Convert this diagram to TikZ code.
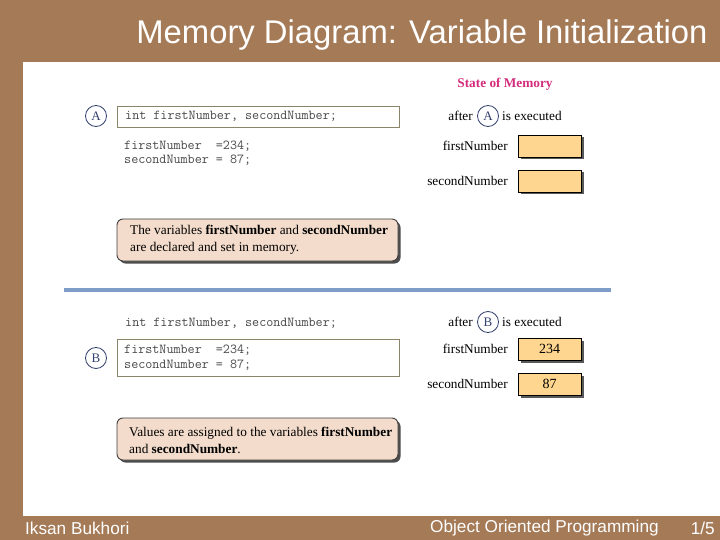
\documentclass[tikz,border=0pt]{standalone}
\usepackage{fontspec}
\setmainfont{Liberation Serif}
\newfontfamily\arialfont{Liberation Sans}
\definecolor{slidebrown}{HTML}{A57A57}
\definecolor{circblue}{HTML}{34406E}
\definecolor{codeboxline}{HTML}{8C8468}
\definecolor{calloutfill}{HTML}{F3DCCB}
\definecolor{memfill}{HTML}{FFD68F}
\definecolor{sepblue}{HTML}{7F9DC9}
\definecolor{magentatitle}{HTML}{D42C7C}
\definecolor{codegray}{HTML}{4A4A4A}
\tikzset{
  stepcircle/.style={circle, draw=circblue, line width=0.8pt, minimum size=21pt, inner sep=0pt, text=circblue, font=\fontsize{13}{13}\selectfont},
  codetext/.style={anchor=west, inner sep=0pt, align=left, text=codegray, font=\ttfamily\fontsize{13.7}{14.5}\selectfont},
  codebox/.style={draw=codeboxline, line width=0.8pt, fill=white},
  callout/.style={draw=black!75, line width=0.9pt, fill=calloutfill, rounded corners=6pt},
  shadowbox/.style={fill=black!70, rounded corners=6pt},
  calltext/.style={anchor=west, inner sep=0pt, align=left, font=\fontsize{13.3}{17}\selectfont},
  memlabel/.style={anchor=east, inner sep=0pt, font=\fontsize{13.3}{14}\selectfont},
  membox/.style={draw=black, line width=0.9pt, fill=memfill, minimum width=63pt, minimum height=22pt, inner sep=0pt, font=\fontsize{14}{14}\selectfont},
  memshadow/.style={fill=black!65},
  plaintext/.style={inner sep=0pt, font=\fontsize{13.3}{14}\selectfont},
  foottext/.style={text=white, inner sep=0pt, font=\arialfont\fontsize{17.2}{19}\selectfont}
}
\begin{document}
\begin{tikzpicture}[x=1pt,y=-1pt]
% background
\fill[slidebrown] (0,0) rectangle (720,540);
\useasboundingbox (0,0) rectangle (720,540);
\fill[white] (23,62) rectangle (720,516);
% title and footer
\node[text=white, inner sep=0pt, font=\arialfont\fontsize{32.8}{34}\selectfont] (title) at (422,35) {Memory Diagram: Variable Initialization};
\node[foottext, anchor=west] (author) at (25,528) {Iksan Bukhori};
\node[foottext, anchor=west] (course) at (430,528) {Object Oriented Programming};
\node[foottext, anchor=east] (page) at (715,528) {1/5};

% ---------- Part A ----------
\node[stepcircle] (cA) at (96,116) {A};
\draw[codebox] (117,106) rectangle (399,127);
\node[codetext] (declA) at (125,116) {int firstNumber, secondNumber;};
\node[codetext] (assignA) at (124,153) {firstNumber\ \ =234;\\secondNumber = 87;};
\fill[shadowbox] (119.5,221.5) rectangle (400.5,263.5);
\draw[callout] (117,219) rectangle (398,261);
\node[calltext] (noteA) at (130,240) {The variables \textbf{firstNumber} and \textbf{secondNumber}\\are declared and set in memory.};

\node[inner sep=0pt, text=magentatitle, font=\bfseries\fontsize{13.3}{14}\selectfont] (state) at (505,84) {State of Memory};
\node[plaintext, anchor=east] (afterA) at (473,116) {after};
\node[stepcircle] (cA2) at (488,116) {A};
\node[plaintext, anchor=west] (execA) at (502,116) {is executed};
\node[memlabel] (fnA) at (508,146) {firstNumber};
\node[memlabel] (snA) at (508,181) {secondNumber};
\fill[memshadow] (520.5,137.5) rectangle (583.5,159.5);
\node[membox] (bfA) at (549.5,146) {};
\fill[memshadow] (520.5,172.5) rectangle (583.5,194.5);
\node[membox] (bsA) at (549.5,181) {};

% separator
\draw[sepblue, line width=4.5pt] (64,290) -- (611,290);

% ---------- Part B ----------
\node[codetext] (declB) at (125,323) {int firstNumber, secondNumber;};
\node[stepcircle] (cB) at (96,358) {B};
\draw[codebox] (117,339) rectangle (399,376);
\node[codetext] (assignB) at (124,357.5) {firstNumber\ \ =234;\\secondNumber = 87;};
\fill[shadowbox] (119.5,420.5) rectangle (400.5,462.5);
\draw[callout] (117,418) rectangle (398,460);
\node[calltext] (noteB) at (129,440) {Values are assigned to the variables \textbf{firstNumber}\\and \textbf{secondNumber}.};

\node[plaintext, anchor=east] (afterB) at (473,322) {after};
\node[stepcircle] (cB2) at (488,322) {B};
\node[plaintext, anchor=west] (execB) at (502,322) {is executed};
\node[memlabel] (fnB) at (508,349) {firstNumber};
\node[memlabel] (snB) at (508,384) {secondNumber};
\fill[memshadow] (520.5,340.5) rectangle (583.5,362.5);
\node[membox] (bfB) at (549.5,349) {234};
\fill[memshadow] (520.5,375.5) rectangle (583.5,397.5);
\node[membox] (bsB) at (549.5,384) {87};
\end{tikzpicture}
\end{document}
